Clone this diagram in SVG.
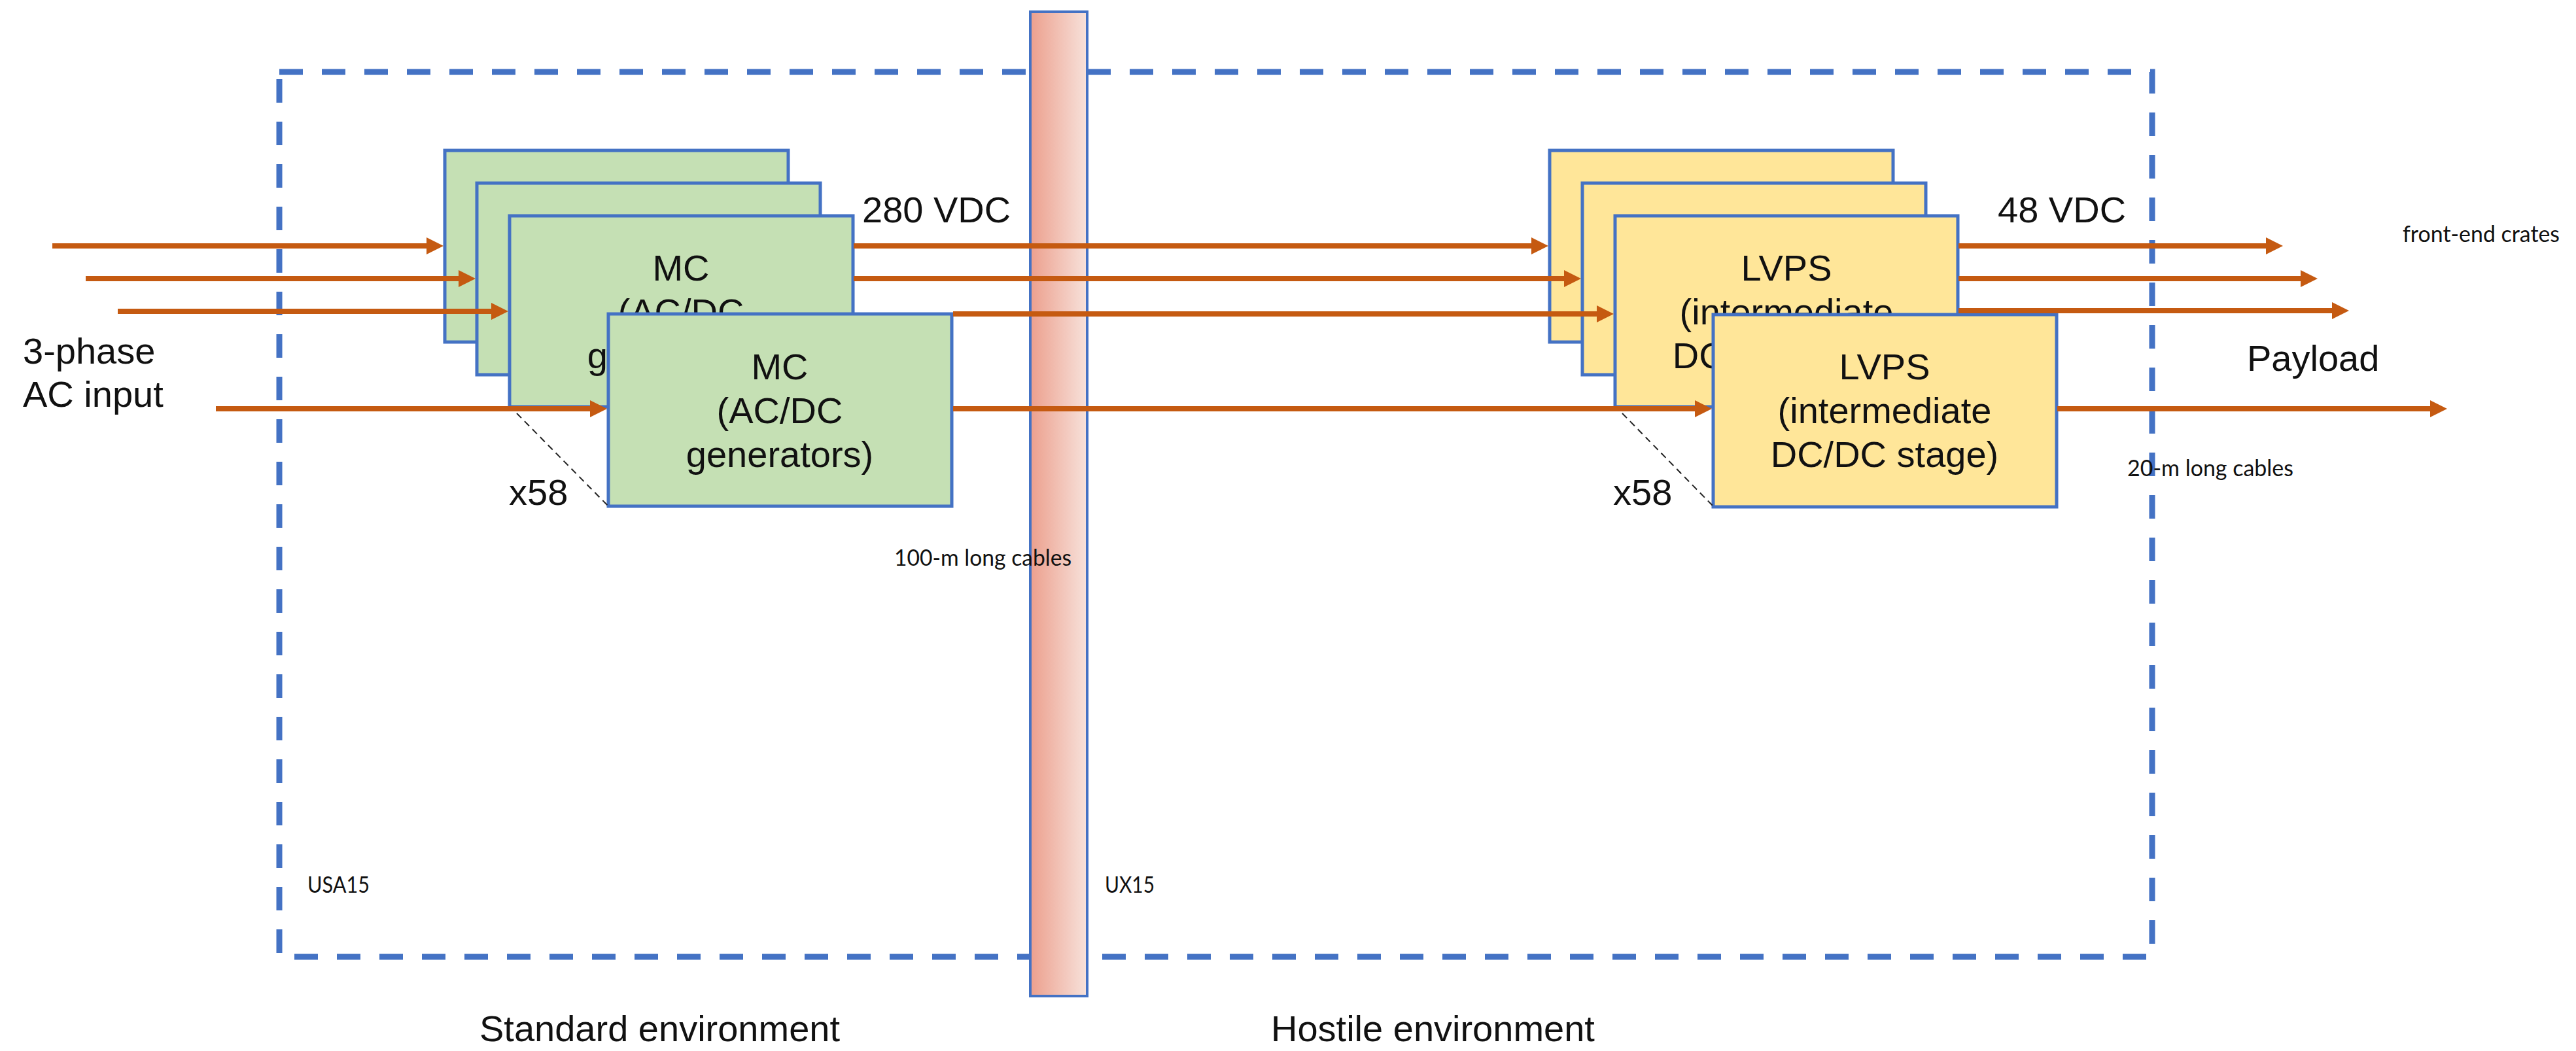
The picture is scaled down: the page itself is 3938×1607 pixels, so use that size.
<svg xmlns="http://www.w3.org/2000/svg" width="3938" height="1607" viewBox="0 0 3938 1607">
  <style>
    .frame { fill: none; stroke: #4472C4; stroke-width: 9; stroke-dasharray: 36 29; }
    .mc { fill: #C5E0B4; stroke: #4472C4; stroke-width: 5; }
    .lvps { fill: #FFE699; stroke: #4472C4; stroke-width: 5; }
    .wire { stroke: #C55A11; stroke-width: 8; fill: none; }
    .diag { stroke: #222; stroke-width: 2; stroke-dasharray: 10 7; fill: none; }
    .big { font-family: "Liberation Sans", Arial, sans-serif; font-size: 56px; fill: #111; }
    .mid { text-anchor: middle; }
    .small { font-family: Lato, "Open Sans", sans-serif; font-size: 35px; fill: #111; }
  </style>
  <defs>
    <linearGradient id="barGrad" x1="0" y1="0" x2="1" y2="0">
      <stop offset="0" stop-color="#EC9F8D"/>
      <stop offset="1" stop-color="#F7E2DB"/>
    </linearGradient>
    <marker id="arrow" markerUnits="userSpaceOnUse" markerWidth="28" markerHeight="30" refX="0" refY="15" orient="auto">
      <path d="M0,2 L26,15 L0,28 z" fill="#C55A11"/>
    </marker>
  </defs>
  <rect width="3938" height="1607" fill="#FFFFFF"/>

  <g id="frame">
    <rect class="frame" x="427" y="110" width="2863" height="1353"/>
  </g>

  <g id="barrier">
    <rect x="1575" y="18" width="87" height="1505" fill="url(#barGrad)" stroke="#4472C4" stroke-width="4"/>
  </g>

  <g id="mc-stack">
    <rect id="mc1" class="mc" x="680" y="230" width="525" height="293"/>
    <rect id="mc2" class="mc" x="729" y="280" width="525" height="293"/>
    <g id="mc3">
      <rect class="mc" x="779" y="330" width="525" height="292"/>
      <text class="big mid" x="1041" y="429">MC</text>
      <text class="big mid" x="1041" y="496">(AC/DC</text>
      <text class="big mid" x="1041" y="563">generators)</text>
    </g>
  </g>

  <g id="lvps-stack">
    <rect id="lvps1" class="lvps" x="2369" y="230" width="525" height="293"/>
    <rect id="lvps2" class="lvps" x="2419" y="280" width="525" height="293"/>
    <g id="lvps3">
      <rect class="lvps" x="2469" y="330" width="524" height="292"/>
      <text class="big mid" x="2731" y="429">LVPS</text>
      <text class="big mid" x="2731" y="496">(intermediate</text>
      <text class="big mid" x="2731" y="563">DC/DC stage)</text>
    </g>
  </g>

  <g id="mc4">
    <rect class="mc" x="930" y="480" width="525" height="294"/>
    <text class="big mid" x="1192" y="580">MC</text>
    <text class="big mid" x="1192" y="647">(AC/DC</text>
    <text class="big mid" x="1192" y="714">generators)</text>
  </g>

  <g id="lvps4">
    <rect class="lvps" x="2619" y="481" width="525" height="294"/>
    <text class="big mid" x="2881" y="580">LVPS</text>
    <text class="big mid" x="2881" y="647">(intermediate</text>
    <text class="big mid" x="2881" y="714">DC/DC stage)</text>
  </g>

  <g id="connectors">
    <line class="wire" x1="80" y1="376" x2="652" y2="376" marker-end="url(#arrow)"/>
    <line class="wire" x1="131" y1="426" x2="701" y2="426" marker-end="url(#arrow)"/>
    <line class="wire" x1="180" y1="476" x2="751" y2="476" marker-end="url(#arrow)"/>
    <line class="wire" x1="330" y1="625" x2="902" y2="625" marker-end="url(#arrow)"/>

    <line class="wire" x1="1305" y1="376" x2="2341" y2="376" marker-end="url(#arrow)"/>
    <line class="wire" x1="1305" y1="426" x2="2391" y2="426" marker-end="url(#arrow)"/>
    <line class="wire" x1="1457" y1="480" x2="2441" y2="480" marker-end="url(#arrow)"/>
    <line class="wire" x1="1457" y1="625" x2="2591" y2="625" marker-end="url(#arrow)"/>

    <line class="wire" x1="2994" y1="376" x2="3464" y2="376" marker-end="url(#arrow)"/>
    <line class="wire" x1="2994" y1="426" x2="3517" y2="426" marker-end="url(#arrow)"/>
    <line class="wire" x1="2994" y1="475" x2="3565" y2="475" marker-end="url(#arrow)"/>
    <line class="wire" x1="3145" y1="625" x2="3715" y2="625" marker-end="url(#arrow)"/>

    <line class="diag" x1="790" y1="632" x2="930" y2="774"/>
    <line class="diag" x1="2480" y1="632" x2="2619" y2="774"/>
  </g>

  <g id="labels">
    <text class="big" x="35" y="556">3-phase</text>
    <text class="big" x="35" y="622">AC input</text>
    <text class="big" x="778" y="772">x58</text>
    <text class="big" x="2466" y="772">x58</text>
    <text class="big" x="1318" y="340" font-size="57">280 VDC</text>
    <text class="big" x="3054" y="340" font-size="57">48 VDC</text>
    <text class="big" x="3435" y="567">Payload</text>
    <text class="small" x="3673" y="370" textLength="240" lengthAdjust="spacingAndGlyphs">front-end crates</text>
    <text class="small" x="3252" y="728" textLength="254" lengthAdjust="spacingAndGlyphs">20-m long cables</text>
    <text class="small" x="1367" y="865" textLength="271" lengthAdjust="spacingAndGlyphs">100-m long cables</text>
    <text class="small" x="470" y="1365" textLength="95" lengthAdjust="spacingAndGlyphs">USA15</text>
    <text class="small" x="1689" y="1365" textLength="76" lengthAdjust="spacingAndGlyphs">UX15</text>
    <text class="big" x="733" y="1592" font-size="57">Standard environment</text>
    <text class="big" x="1943" y="1592" font-size="57">Hostile environment</text>
  </g>
</svg>
